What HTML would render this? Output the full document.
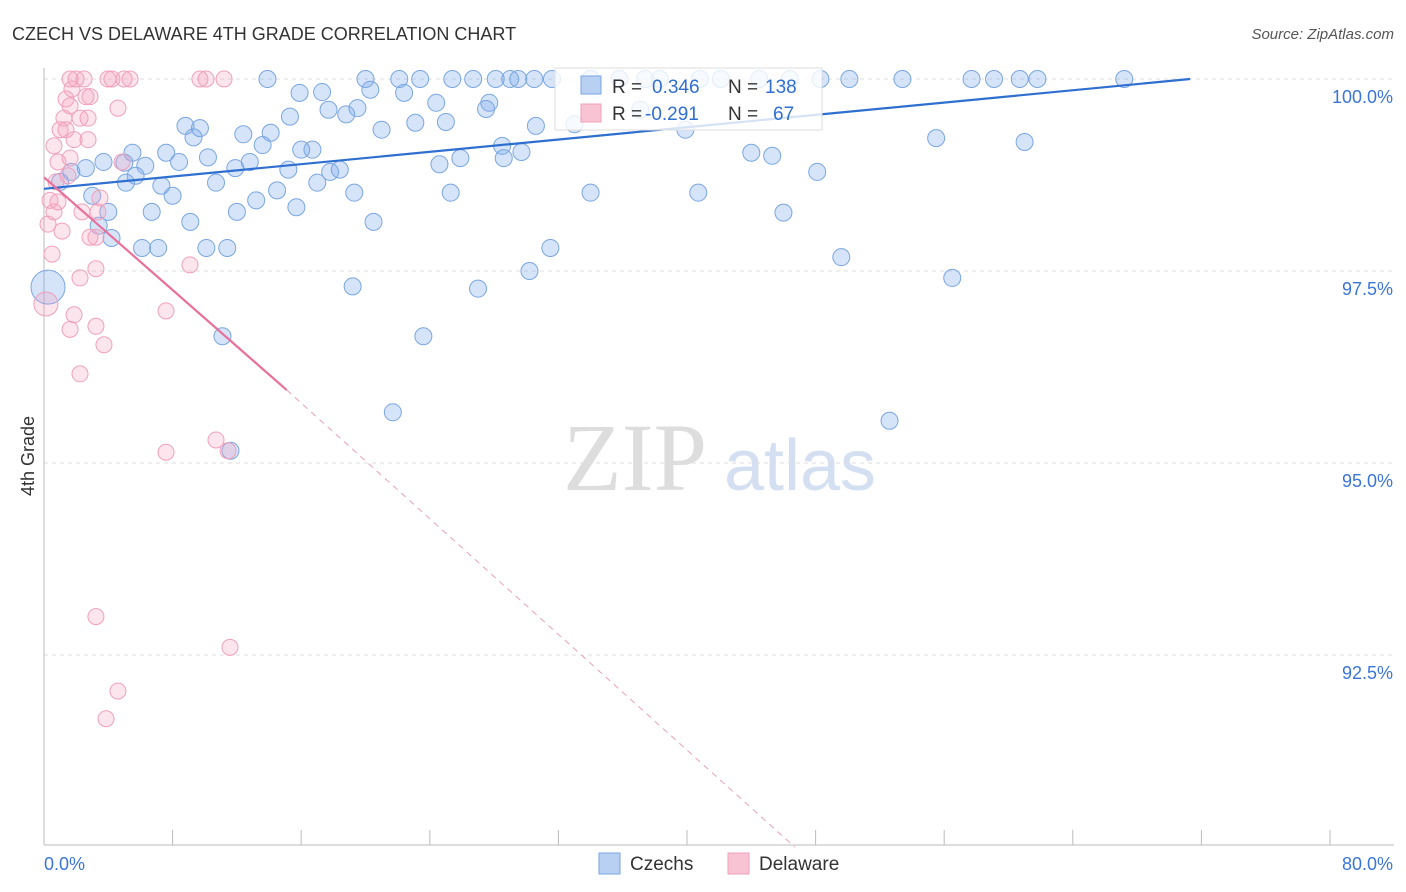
<!DOCTYPE html>
<html><head><meta charset="utf-8">
<style>
body{margin:0;background:#fff;font-family:"Liberation Sans",sans-serif;}
svg{display:block}
</style></head>
<body>
<svg id="chart" width="1406" height="892">
<text x="12" y="40" font-size="18" fill="#333">CZECH VS DELAWARE 4TH GRADE CORRELATION CHART</text>
<text x="1394" y="39" font-size="15" fill="#555" text-anchor="end" font-style="italic">Source: ZipAtlas.com</text>
<text x="34" y="456" font-size="18" fill="#333" transform="rotate(-90 34 456)" text-anchor="middle">4th Grade</text>
<g>
<text x="635" y="490" font-size="96" fill="#ddd" font-family="Liberation Serif,serif" text-anchor="middle">ZIP</text>
<text x="800" y="490" font-size="72" fill="#d4e0f2" text-anchor="middle">atlas</text>
</g>
<g id="grid"></g>
<g id="marks"></g>
<g>
<rect x="555" y="68" width="267" height="62" fill="#fff" fill-opacity="0.8" stroke="#ddd"/>
<rect x="581" y="76" width="20" height="18" fill="#b8d0f2" stroke="#7aa6e0"/>
<text x="612" y="93" font-size="19" fill="#333">R = </text><text x="652" y="93" font-size="19" fill="#2f6fd0">0.346</text>
<text x="728" y="93" font-size="19" fill="#333">N = </text><text x="765" y="93" font-size="19" fill="#2f6fd0">138</text>
<rect x="581" y="104" width="20" height="18" fill="#f8c4d4" stroke="#f0a0b8"/>
<text x="612" y="120" font-size="19" fill="#333">R = </text><text x="645" y="120" font-size="19" fill="#2f6fd0">-0.291</text>
<text x="728" y="120" font-size="19" fill="#333">N = </text><text x="773" y="120" font-size="19" fill="#2f6fd0">67</text>
</g>
<g>
<rect x="599" y="853" width="21" height="21" fill="#b8d0f2" stroke="#7aa6e0"/>
<text x="630" y="870" font-size="19" fill="#333">Czechs</text>
<rect x="728" y="853" width="21" height="21" fill="#f8c4d4" stroke="#f0a0b8"/>
<text x="759" y="870" font-size="19" fill="#333">Delaware</text>
</g>
</svg>
<script>
const blueX=[13.9,15.9,17.3,20.0,20.3,22.1,22.4,23.4,24.4,25.4,26.7,27.7,28.1,29.0,29.5,30.5,31.6,33.0,34.0,35.8,37.4,38.3,40.8,42.1,44.5,46.4,48.3,50.1,53.4,57.7,59.1,60.7,61.8,67.2,
15.3,17.7,18.8,19.5,21.0,23.1,25.0,27.5,30.6,28.5,25.9,24.6,28.6,29.7,37.1,39.9,44.0,45.3,48.1,55.5,61.0,
8.8,9.7,12.4,14.1,13.6,16.0,16.7,8.4,10.2,11.9,12.8,9.3,7.6,5.5,6.3,5.0,3.7,2.6,1.7,1.0,5.1,5.7,7.3,8.0,10.7,15.2,17.0,17.8,18.4,14.5,13.2,12.0,6.7,4.0,3.0,3.4,4.2,9.1,10.1,11.4,6.1,7.1,15.7,19.3,20.5,25.3,34.0,40.7,46.0,31.5,30.2,19.2,27.0,49.6,56.5,11.1,23.6,21.7,52.6,11.6,0.25];
const blueY=[100,99.82,99.83,100,99.86,100,99.82,100,99.69,100,100,99.69,100,100,100,100,100,99.41,100,100,100,100,100,100,100,100,100,100,100,100,100,100,100,100,
99.51,99.6,99.54,99.62,99.34,99.43,99.44,99.61,99.39,99.13,98.97,98.89,98.97,99.05,99.6,99.34,99.04,99.0,98.79,99.23,99.18,
99.39,99.36,99.28,99.30,99.14,99.08,99.08,98.92,98.98,98.84,98.92,99.24,99.04,99.04,98.87,98.91,98.92,98.84,98.79,98.66,98.65,98.74,98.61,98.48,98.65,98.82,98.65,98.79,98.82,98.55,98.42,98.27,98.27,98.27,98.48,98.09,97.93,98.14,97.80,97.80,97.80,97.80,98.33,98.52,98.14,98.52,98.52,98.52,98.26,97.80,97.5,97.30,97.27,97.68,97.41,96.65,96.65,95.66,95.55,95.16,97.29];
const pinkX=[1.62,1.99,2.49,3.98,4.23,4.98,5.35,9.7,10.08,11.2,1.74,1.37,1.62,2.61,2.86,4.6,1.24,2.24,2.74,1.0,1.37,0.62,2.74,1.87,0.87,1.62,4.85,0.75,1.49,0.37,0.87,3.48,0.62,2.36,3.36,0.25,1.12,2.86,3.23,0.5,3.23,2.24,9.08,0.12,7.59,1.87,1.62,3.23,3.73,2.24,7.59,10.7,11.45,3.23,11.57,4.6,3.86];
const pinkY=[100,100,100,100,100,100,100,100,100,100,99.87,99.74,99.65,99.77,99.77,99.62,99.49,99.49,99.49,99.34,99.34,99.13,99.21,99.21,98.92,98.97,98.92,98.66,98.74,98.42,98.40,98.45,98.27,98.27,98.27,98.11,98.02,97.94,97.94,97.72,97.53,97.41,97.58,97.07,96.98,96.93,96.74,96.78,96.54,96.16,95.14,95.30,95.16,93.0,92.6,92.03,91.67];
const yTicks=[100,97.5,95,92.5];
const yTickLabels=["100.0%","97.5%","95.0%","92.5%"];
const blueTrend=[[0,98.57],[71.3,100]];
const pinkTrend=[[0,98.72],[15.1,95.95],[46.7,90.0]];
const X=v=>44+v/80*1286, Y=v=>79+(100-v)*76.8;
const NS="http://www.w3.org/2000/svg";
function mk(tag,attrs,parent){const e=document.createElementNS(NS,tag);for(const k in attrs)e.setAttribute(k,attrs[k]);parent.appendChild(e);return e;}
const grid=document.getElementById('grid'), marks=document.getElementById('marks');
yTicks.forEach((t,i)=>{
 const l=mk('line',{x1:44,x2:1394,y1:Y(t),y2:Y(t),stroke:'#ddd','stroke-dasharray':'4,4'},grid);
 
 
 const tx=mk('text',{x:1393,y:Y(t)+24,'font-size':18,fill:'#3a76d8','text-anchor':'end'},grid);
 tx.textContent=yTickLabels[i];
 
 
});
const ax=mk('line',{x1:44,x2:1394,y1:845,y2:845,stroke:'#bbb'},grid);


const ay=mk('line',{x1:44,x2:44,y1:68,y2:845,stroke:'#bbb'},grid);


for(let i=0;i<=10;i++){const t=mk('line',{x1:X(i*8),x2:X(i*8),y1:830,y2:845,stroke:'#bbb'},grid);
 
 }
[["0.0%",44,'start'],["80.0%",1393,'end']].forEach(a=>{const t=mk('text',{x:a[1],y:870,'font-size':18,fill:'#3a76d8','text-anchor':a[2]},grid);t.textContent=a[0];
 
 });
blueX.forEach((x,i)=>{const big=i===blueX.length-1;
 const c=mk('circle',{cx:X(x),cy:Y(blueY[i]),r:big?17:8.5,fill:'rgba(120,165,235,0.3)',stroke:'#7aa6e0','stroke-width':1},marks);
 
 });
pinkX.forEach((x,i)=>{const big=i===43;
 const c=mk('circle',{cx:X(x),cy:Y(pinkY[i]),r:big?12:8,fill:'rgba(245,160,190,0.28)',stroke:'#f0a0bc','stroke-width':1},marks);
 
 });
const bl=mk('line',{x1:X(blueTrend[0][0]),y1:Y(blueTrend[0][1]),x2:X(blueTrend[1][0]),y2:Y(blueTrend[1][1]),stroke:'#2f6fd0','stroke-width':2.2},marks);


const pl=mk('line',{x1:X(pinkTrend[0][0]),y1:Y(pinkTrend[0][1]),x2:X(pinkTrend[1][0]),y2:Y(pinkTrend[1][1]),stroke:'#e8709a','stroke-width':2.2},marks);


const pd=mk('line',{x1:X(pinkTrend[1][0]),y1:Y(pinkTrend[1][1]),x2:X(pinkTrend[2][0]),y2:Y(pinkTrend[2][1]),stroke:'#e8a0b8','stroke-width':1,'stroke-dasharray':'6,5'},marks);


</script>
</body></html>
